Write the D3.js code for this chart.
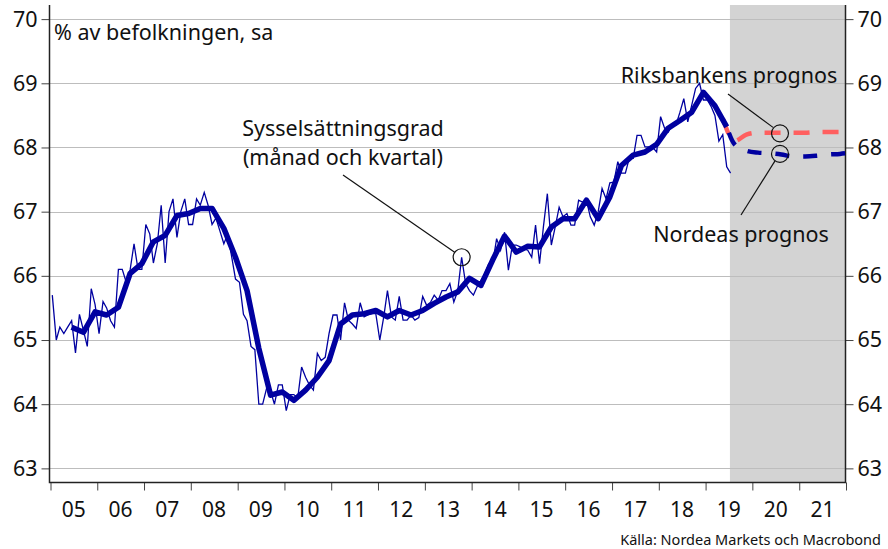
<!DOCTYPE html>
<meta charset="utf-8">
<script src="https://d3js.org/d3.v7.min.js"></script>
<style>
  body { margin: 0; background: #fff; }
  text { font-family: "Noto Sans", sans-serif; }
</style>
<div id="chart"></div>
<script>
// monthly employment rate, Jan 2005 .. Jul 2019
var monthly = [
  65.7, 65.0, 65.2, 65.1, 65.2, 65.3, 64.8, 65.4, 65.15, 64.9, 65.8, 65.55,
  65.1, 65.6, 65.5, 65.3, 65.2, 66.1, 66.1, 65.9, 66.1, 66.5, 66.1, 66.1,
  66.8, 66.65, 66.2, 66.5, 67.1, 66.2, 67.0, 67.2, 66.6, 67.0, 67.2, 66.8,
  66.8, 67.2, 67.1, 67.3, 67.1, 66.8, 66.9, 66.7, 66.5, 66.65, 66.3, 65.95,
  65.9, 65.4, 65.3, 64.9, 64.85, 64.0, 64.0, 64.25, 64.2, 64.0, 64.3, 64.3,
  63.9, 64.15, 64.15, 64.1, 64.58, 64.42, 64.3, 64.22, 64.79, 64.68, 64.73, 65.1,
  65.39, 65.39, 65.0, 65.58, 65.31, 65.25, 65.18, 65.58, 65.36, 65.39, 65.41, 65.41,
  65.0, 65.36, 65.77, 65.36, 65.31, 65.68, 65.31, 65.31, 65.39, 65.31, 65.35, 65.68,
  65.54, 65.59, 65.7, 65.62, 65.77, 65.77, 65.88, 65.59, 65.77, 66.29, 65.88, 65.77,
  65.7, 65.84, 65.93, 66.04, 66.19, 66.2, 66.58, 66.4, 66.68, 66.09, 66.48, 66.48,
  66.45, 66.42, 66.4, 66.29, 66.79, 66.19, 66.76, 67.28, 66.48, 66.76, 67.07, 66.92,
  66.97, 66.79, 66.79, 67.18, 67.15, 67.18, 66.92, 66.79, 67.0, 67.36, 67.2, 67.45,
  67.46, 67.78, 67.6, 67.6, 67.83, 67.83, 68.19, 68.19, 68.01, 68.01, 68.0, 67.93,
  68.48, 68.3, 68.24, 68.35, 68.35, 68.55, 68.76, 68.4, 68.66, 68.92, 69.0, 68.74,
  68.74, 68.63, 68.5, 68.1, 68.2, 67.7, 67.6
];
// quarterly, Q2 2005 .. Q2 2019
var quarterly = [
  65.2, 65.12, 65.44, 65.39, 65.51, 66.04, 66.19, 66.53, 66.63, 66.94, 66.97, 67.05,
  67.05, 66.74, 66.29, 65.77, 64.87, 64.14, 64.19, 64.06, 64.22, 64.42, 64.68, 65.25,
  65.39, 65.41, 65.46, 65.36, 65.46, 65.39, 65.46, 65.57, 65.67, 65.75, 65.96, 65.85,
  66.25, 66.62, 66.37, 66.46, 66.45, 66.76, 66.89, 66.89, 67.18, 66.89, 67.23, 67.72,
  67.88, 67.93, 68.05, 68.3, 68.42, 68.55, 68.86, 68.65, 68.32
];
// forecasts
var riksDates = ["2019-05-15", "2019-08-15", "2019-11-15", "2020-02-15", "2020-05-15", "2020-08-15",
  "2020-11-15", "2021-02-15", "2021-05-15", "2021-08-15", "2021-11-15", "2021-12-31"];
var riksValues = [68.45, 68.1, 68.2, 68.23, 68.23, 68.23, 68.23, 68.23, 68.24, 68.24, 68.24, 68.24];
var nordeaDates = ["2019-06-15", "2019-08-15", "2019-11-15", "2020-02-15", "2020-05-15", "2020-08-15",
  "2020-11-15", "2021-02-15", "2021-05-15", "2021-08-15", "2021-11-15", "2021-12-31"];
var nordeaValues = [68.32, 68.05, 67.95, 67.92, 67.91, 67.89, 67.86, 67.86, 67.87, 67.89, 67.9, 67.91];

var yTicks = [63, 64, 65, 66, 67, 68, 69, 70];
var yearLabels = ["05", "06", "07", "08", "09", "10", "11", "12", "13", "14", "15", "16", "17", "18", "19", "20", "21"];

var W = 888, H = 549;
var pLeft = 49.5, pRight = 845.5, pTop = 5, pBottom = 482.5;
var blue = "#0000a0", red = "#ff5f5f";

var svg = d3.select("#chart").append("svg")
  .attr("width", W).attr("height", H);

var x = d3.scaleTime()
  .domain([new Date(2005, 0, 1), new Date(2022, 0, 1)])
  .range([50.5, 846]);
var y = d3.scaleLinear()
  .domain([62.78, 70.22])
  .range([pBottom, pTop]);

var monthData = monthly.map(function (v, i) { return { d: new Date(2005, i, 15), v: v }; });
var quarterData = quarterly.map(function (v, k) { return { d: new Date(2005, 5 + 3 * k, 15), v: v }; });
var riksData = riksDates.map(function (s, i) { return { d: new Date(s), v: riksValues[i] }; });
var nordeaData = nordeaDates.map(function (s, i) { return { d: new Date(s), v: nordeaValues[i] }; });

// forecast shading
var shadeX = x(new Date(2019, 6, 10));
svg.append("rect")
  .attr("x", shadeX).attr("y", pTop)
  .attr("width", pRight - shadeX).attr("height", pBottom - pTop)
  .attr("fill", "#d3d3d3");

// gridlines
svg.append("g").selectAll("line").data(yTicks).enter().append("line")
  .attr("x1", pLeft).attr("x2", pRight)
  .attr("y1", function (d) { return Math.round(y(d)) + 0.5; })
  .attr("y2", function (d) { return Math.round(y(d)) + 0.5; })
  .attr("stroke", "#bdbdbd").attr("stroke-width", 1);

// y axes
var yl = svg.append("g").attr("transform", "translate(" + pLeft + ",0)")
  .call(d3.axisLeft(y).tickValues(yTicks).tickSize(8).tickPadding(4));
var yr = svg.append("g").attr("transform", "translate(" + pRight + ",0)")
  .call(d3.axisRight(y).tickValues(yTicks).tickSize(8).tickPadding(4));
[yl, yr].forEach(function (g) {
  g.select(".domain").remove();
  g.selectAll("text").attr("font-size", 21.5).attr("fill", "#111").attr("font-family", "Noto Sans");
  g.selectAll("line").attr("stroke", "#444");
});

// x axis
var xa = svg.append("g").attr("transform", "translate(0," + pBottom + ")")
  .call(d3.axisBottom(x).ticks(d3.timeYear.every(1)).tickSize(8).tickFormat(""));
xa.select(".domain").remove();
xa.selectAll("line").attr("stroke", "#444");
svg.append("g").selectAll("text").data(yearLabels).enter().append("text")
  .attr("x", function (d, i) { return x(new Date(2005 + i, 6, 1)); })
  .attr("y", 517)
  .attr("text-anchor", "middle").attr("font-size", 21).attr("fill", "#111")
  .text(function (d) { return d; });

// frame
svg.append("path")
  .attr("d", "M" + pLeft + "," + pTop + "V" + pBottom + "H" + pRight + "V" + pTop)
  .attr("fill", "none").attr("stroke", "#222").attr("stroke-width", 1.5);

var line = d3.line().x(function (d) { return x(d.d); }).y(function (d) { return y(d.v); });
var curved = d3.line().curve(d3.curveMonotoneX)
  .x(function (d) { return x(d.d); }).y(function (d) { return y(d.v); });

svg.append("path").datum(monthData).attr("d", line)
  .attr("fill", "none").attr("stroke", blue).attr("stroke-width", 1.3);
svg.append("path").datum(riksData).attr("d", curved)
  .attr("fill", "none").attr("stroke", red).attr("stroke-width", 4.5)
  .attr("stroke-dasharray", "16,13");
svg.append("path").datum(quarterData).attr("d", line)
  .attr("fill", "none").attr("stroke", blue).attr("stroke-width", 5.5)
  .attr("stroke-linejoin", "round");
svg.append("path").datum(nordeaData).attr("d", curved)
  .attr("fill", "none").attr("stroke", blue).attr("stroke-width", 4.5)
  .attr("stroke-dasharray", "14,14").attr("stroke-dashoffset", -6);

// annotations
function circ(cx, cy) {
  svg.append("circle").attr("cx", cx).attr("cy", cy).attr("r", 8.5)
    .attr("fill", "none").attr("stroke", "#111").attr("stroke-width", 1.2);
}
function lead(x1, y1, x2, y2) {
  svg.append("line").attr("x1", x1).attr("y1", y1).attr("x2", x2).attr("y2", y2)
    .attr("stroke", "#111").attr("stroke-width", 1.2);
}
var spike = monthData[105];
circ(x(spike.d), y(spike.v));
lead(343, 175, x(spike.d) - 7, y(spike.v) - 5);
circ(780, y(68.22));
lead(728, 94, 773, y(68.22) - 6);
circ(780, y(67.9));
lead(775, y(67.9) + 7, 741, 215);

function label(tx, ty, s, anchor, size) {
  svg.append("text").attr("x", tx).attr("y", ty).attr("text-anchor", anchor || "start")
    .attr("font-size", size || 21.5).attr("fill", "#111").text(s);
}
label(54, 40, "% av befolkningen, sa");
label(343, 136, "Sysselsättningsgrad", "middle");
label(343, 165, "(månad och kvartal)", "middle");
label(729, 83, "Riksbankens prognos", "middle");
label(741, 242, "Nordeas prognos", "middle");
label(881, 545, "Källa: Nordea Markets och Macrobond", "end", 14.5);
</script>
